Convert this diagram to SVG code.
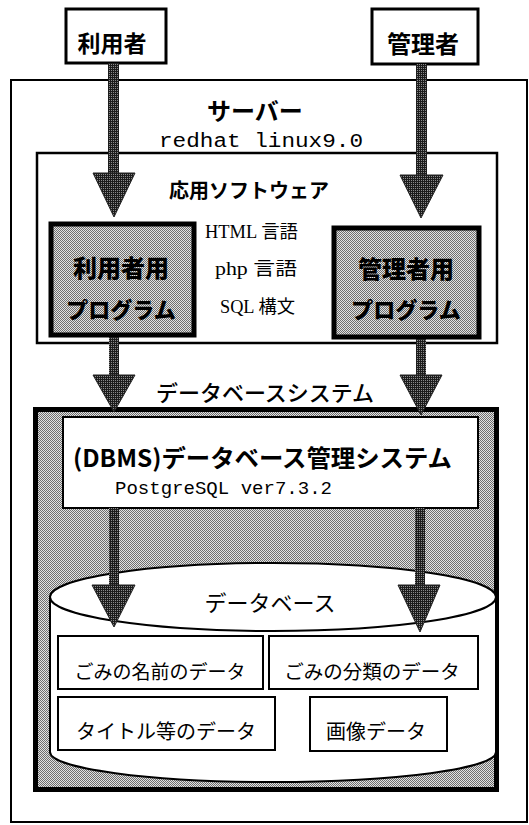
<svg xmlns="http://www.w3.org/2000/svg" width="529" height="825" viewBox="0 0 529 825">
<defs>
<pattern id="lt" width="2" height="2" patternUnits="userSpaceOnUse">
<rect width="2" height="2" fill="#e2e2e2"/>
<rect x="0" y="0" width="1" height="1" fill="#6e6e6e"/>
<rect x="1" y="1" width="1" height="1" fill="#6e6e6e"/>
</pattern>
<pattern id="dk" width="2" height="2" patternUnits="userSpaceOnUse">
<rect width="2" height="2" fill="#1c1c1c"/>
<rect x="1" y="0" width="1" height="1" fill="#8a8a8a"/>
</pattern>
</defs>
<style>
.box{fill:#fff;stroke:#000;stroke-width:2}
.thick{fill:#fff;stroke:#000;stroke-width:3}
.prog{fill:url(#lt);stroke:#000;stroke-width:5}
.jp{font-family:"Noto Sans CJK JP","Noto Sans",sans-serif;fill:#000;text-anchor:middle}
.b{font-weight:bold}
.k{font-weight:900}
.ser{font-family:"Liberation Serif","Noto Sans CJK JP",serif;fill:#000;font-size:18px}
.mono{font-family:"Liberation Mono","Noto Sans CJK JP",monospace;fill:#000}
.shaft{fill:url(#dk)}
.head{fill:url(#dk);stroke:#222;stroke-width:1}
</style>

<g id="server">
<rect x="11" y="80" width="516" height="742" fill="#fff" stroke="#000" stroke-width="2"/>
<text class="jp b" x="255" y="120" font-size="24">サーバー</text>
<text class="mono" x="159" y="147" font-size="20" textLength="204" lengthAdjust="spacingAndGlyphs">redhat linux9.0</text>
</g>

<g id="user">
<rect class="thick" x="66" y="9" width="100" height="54"/>
<text class="jp b" x="112" y="52" font-size="23">利用者</text>
</g>

<g id="admin">
<rect class="thick" x="372" y="9" width="106" height="55"/>
<text class="jp b" x="423" y="53" font-size="24">管理者</text>
</g>

<g id="appsoft">
<rect x="37" y="153" width="460" height="190" fill="#fff" stroke="#000" stroke-width="2.5"/>
<text class="jp b" x="249" y="198" font-size="20">応用ソフトウェア</text>
<text class="ser" x="205" y="238" textLength="93" lengthAdjust="spacingAndGlyphs">HTML 言語</text>
<text class="ser" x="215" y="275" textLength="82" lengthAdjust="spacingAndGlyphs">php 言語</text>
<text class="ser" x="220" y="313" textLength="75" lengthAdjust="spacingAndGlyphs">SQL 構文</text>
</g>

<g id="userprog">
<rect class="prog" x="51" y="224" width="143" height="111"/>
<text class="jp k" x="121" y="277" font-size="24">利用者用</text>
<text class="jp k" x="121" y="318" font-size="22">プログラム</text>
</g>

<g id="adminprog">
<rect class="prog" x="334" y="228" width="145" height="109"/>
<text class="jp k" x="406" y="278" font-size="24">管理者用</text>
<text class="jp k" x="406" y="318" font-size="22">プログラム</text>
</g>

<g id="dbsystem">
<text class="jp" x="265" y="401" font-size="22" font-weight="500">データベースシステム</text>
<rect class="prog" x="35.5" y="409.5" width="461" height="380"/>
</g>

<g id="dbms">
<rect class="box" x="63" y="417" width="415" height="91"/>
<text class="jp b" x="262.5" y="467" font-size="24" textLength="379" lengthAdjust="spacingAndGlyphs">(DBMS)データベース管理システム</text>
<text class="mono" x="115" y="494" font-size="18" textLength="217" lengthAdjust="spacingAndGlyphs">PostgreSQL ver7.3.2</text>
</g>

<g id="database">
<path d="M50,597 L50,752 A223,30 0 0 0 496,752 L496,597" fill="#fff" stroke="#000" stroke-width="2"/>
<ellipse cx="273" cy="597" rx="223" ry="34" fill="#fff" stroke="#000" stroke-width="2"/>
<text class="jp" x="270" y="611" font-size="22">データベース</text>
</g>

<g id="garbage-name">
<rect class="box" x="58" y="636" width="205" height="53"/>
<text class="jp" x="160" y="679" font-size="19">ごみの名前のデータ</text>
</g>
<g id="garbage-class">
<rect class="box" x="269" y="636" width="209" height="53"/>
<text class="jp" x="372" y="679" font-size="19.5">ごみの分類のデータ</text>
</g>
<g id="title-data">
<rect class="box" x="58" y="697" width="217" height="53"/>
<text class="jp" x="166" y="739" font-size="20">タイトル等のデータ</text>
</g>
<g id="image-data">
<rect class="box" x="310" y="697" width="137" height="54"/>
<text class="jp" x="376" y="739" font-size="20">画像データ</text>
</g>

<g id="connectors">
<rect class="shaft" x="108" y="63" width="11" height="111"/>
<polygon class="head" points="93,173 135,173 114,217"/>
<rect class="shaft" x="416" y="64" width="11" height="112"/>
<polygon class="head" points="400,175 443,175 421,218"/>
<rect class="shaft" x="109" y="337" width="10" height="39"/>
<polygon class="head" points="93,375 135,375 114,412"/>
<rect class="shaft" x="416" y="339" width="10" height="37"/>
<polygon class="head" points="400,375 442,375 421,415"/>
<rect class="shaft" x="109" y="508" width="10" height="78"/>
<polygon class="head" points="92,585 135,585 114,627"/>
<rect class="shaft" x="415" y="508" width="10" height="78"/>
<polygon class="head" points="398,585 440,585 420,632"/>
</g>
</svg>
